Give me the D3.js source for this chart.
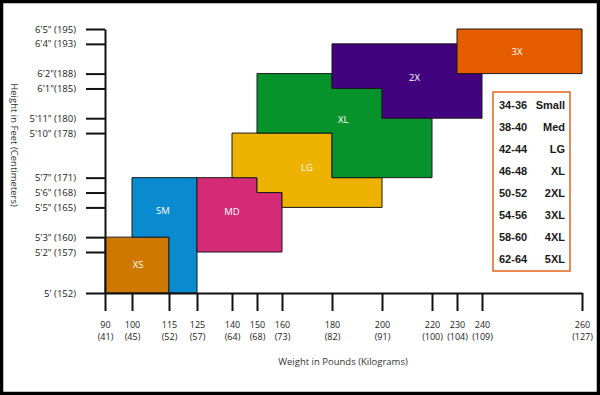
<!doctype html>
<html lang="en">
  <head>
    <meta charset="utf-8">
    <title>Size chart: height and weight</title>
    <style>
      body { margin: 0; background: #fff; }
      svg { display: block; }
      .axis text { font-family: "Open Sans", sans-serif; font-size: 9.5px; fill: #222; }
      .axis path, .axis line { stroke: #111; stroke-width: 2px; }
      .axis .kg, .axis .lb { font-size: 9px; }
      .title { font-family: "Open Sans", sans-serif; font-size: 9.5px; fill: #333; }
      .size-label { font-family: "Open Sans", sans-serif; font-size: 9.5px; fill: #fff; text-anchor: middle; }
      .legend text { font-family: "Liberation Sans", Arial, sans-serif; font-size: 11px; font-weight: bold; fill: #1a1a1a; }
    </style>
  </head>
  <body>
    <script src="https://d3js.org/d3.v7.min.js"></script>
    <script>
    // x ticks: pounds and kilograms
    var weightTicks = [90, 100, 115, 125, 140, 150, 160, 180, 200, 220, 230, 240, 260];
    var weightKg = [41, 45, 52, 57, 64, 68, 73, 82, 91, 100, 104, 109, 127];

    // y ticks: height in inches and their labels
    var heightTicks = [60, 62, 63, 65, 66, 67, 70, 71, 73, 74, 76, 77];
    var heightLabels = ["5' (152)", "5'2\" (157)", "5'3\" (160)", "5'5\" (165)", "5'6\" (168)", "5'7\" (171)",
                        "5'10\" (178)", "5'11\" (180)", "6'1\"(185)", "6'2\"(188)", "6'4\" (193)", "6'5\" (195)"];

    // size regions as [pounds, inches] outlines
    var sizes = ["XS", "SM", "MD", "LG", "XL", "2X", "3X"];
    var sizeColors = ["#cf7800", "#0a8bd0", "#d52b76", "#eeb300", "#06932b", "#42037e", "#e65d00"];
    var sizeShapes = [
      [[90, 60], [90, 63], [115, 63], [115, 60]],
      [[100, 63], [100, 67], [125, 67], [125, 60], [115, 60], [115, 63]],
      [[125, 62], [125, 67], [150, 67], [150, 66], [160, 66], [160, 62]],
      [[140, 67], [140, 70], [180, 70], [180, 67], [200, 67], [200, 65], [160, 65], [160, 66], [150, 66], [150, 67]],
      [[150, 70], [150, 74], [180, 74], [180, 73], [200, 73], [200, 71], [220, 71], [220, 67], [180, 67], [180, 70]],
      [[180, 73], [180, 76], [230, 76], [230, 74], [240, 74], [240, 71], [200, 71], [200, 73]],
      [[230, 74], [230, 77], [260, 77], [260, 74]]
    ];
    var labelWeights = [102.5, 112.5, 140, 170, 184.5, 213, 247];
    var labelHeights = [61.4, 64.8, 64.7, 67.7, 70.9, 73.7, 75.5];

    // chest measurement legend
    var chestRanges = ["34-36", "38-40", "42-44", "46-48", "50-52", "54-56", "58-60", "62-64"];
    var chestSizes = ["Small", "Med", "LG", "XL", "2XL", "3XL", "4XL", "5XL"];

    var width = 600, height = 395;

    var svg = d3.select("body").append("svg")
        .attr("width", width)
        .attr("height", height);

    // black frame
    svg.append("rect")
      .attr("x", 1.5).attr("y", 1.5)
      .attr("width", width - 3).attr("height", height - 3)
      .attr("fill", "#fff")
      .attr("stroke", "#000")
      .attr("stroke-width", 3.5);

    // the printed chart is not evenly spaced, so the scales are piecewise
    var x = d3.scaleLinear()
      .domain([90, 100, 115, 125, 140, 240, 260])
      .range([105, 132, 169, 197, 232, 482, 582]);
    var y = d3.scaleLinear().domain([60, 62, 77]).range([293, 252, 29]);

    var line = d3.line().x(d => x(d[0])).y(d => y(d[1]));

    svg.selectAll("path.size")
      .data(sizeShapes)
      .join("path")
      .attr("class", "size")
      .attr("d", d => line(d) + "Z")
      .attr("fill", (d, i) => sizeColors[i])
      .attr("stroke", "#1b1b1b")
      .attr("stroke-width", 1);

    svg.selectAll("text.size-label")
      .data(sizes)
      .join("text")
      .attr("class", "size-label")
      .attr("x", (d, i) => x(labelWeights[i]))
      .attr("y", (d, i) => y(labelHeights[i]))
      .attr("dy", "0.35em")
      .text(d => d);

    // y axis
    svg.append("g")
      .attr("class", "axis")
      .attr("transform", "translate(105,0)")
      .call(d3.axisLeft(y)
        .tickValues(heightTicks)
        .tickSize(19)
        .tickPadding(10)
        .tickSizeOuter(0)
        .tickFormat((d, i) => heightLabels[i]));

    // x axis, pounds on the first line and kilograms below
    var xAxis = svg.append("g")
      .attr("class", "axis")
      .attr("transform", "translate(0,293)")
      .call(d3.axisBottom(x)
        .tickValues(weightTicks)
        .tickSize(18)
        .tickSizeOuter(0)
        .tickFormat(""));

    xAxis.selectAll(".tick text").remove();
    xAxis.selectAll(".tick")
      .append("text")
      .attr("class", "lb")
      .attr("y", 35)
      .attr("text-anchor", "middle")
      .text(d => d);
    xAxis.selectAll(".tick")
      .append("text")
      .attr("class", "kg")
      .attr("y", 47)
      .attr("text-anchor", "middle")
      .text(d => "(" + weightKg[weightTicks.indexOf(d)] + ")");

    // axis titles
    svg.append("text")
      .attr("class", "title")
      .attr("text-anchor", "middle")
      .attr("transform", "translate(11,145) rotate(90)")
      .text("Height in Feet (Centimeters)");

    svg.append("text")
      .attr("class", "title")
      .attr("x", 343)
      .attr("y", 365)
      .attr("text-anchor", "middle")
      .text("Weight in Pounds (Kilograms)");

    // legend box
    var legend = svg.append("g")
      .attr("class", "legend")
      .attr("transform", "translate(493,92)");

    legend.append("rect")
      .attr("width", 77)
      .attr("height", 179)
      .attr("fill", "#fff")
      .attr("stroke", "#e2661c")
      .attr("stroke-width", 1.5);

    var row = d3.scalePoint().domain(d3.range(chestRanges.length)).range([13, 167]);

    legend.selectAll("text.range")
      .data(chestRanges)
      .join("text")
      .attr("class", "range")
      .attr("x", 6)
      .attr("y", (d, i) => row(i))
      .attr("dy", "0.35em")
      .text(d => d);

    legend.selectAll("text.name")
      .data(chestSizes)
      .join("text")
      .attr("class", "name")
      .attr("x", 72)
      .attr("y", (d, i) => row(i))
      .attr("dy", "0.35em")
      .attr("text-anchor", "end")
      .text(d => d);
    </script>
  </body>
</html>
